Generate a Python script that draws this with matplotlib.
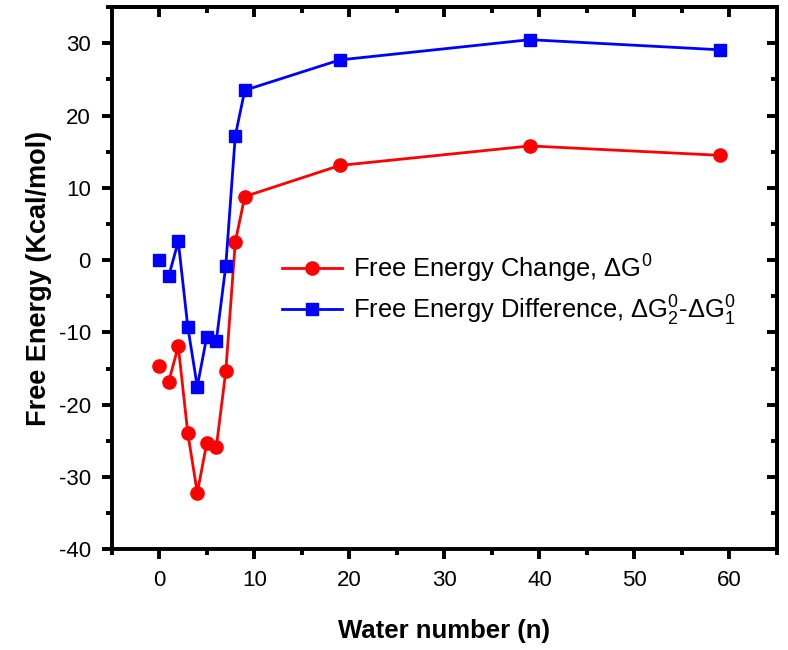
import numpy as np
import matplotlib
matplotlib.use("Agg")
import matplotlib.pyplot as plt
from matplotlib.ticker import MultipleLocator

plt.rcParams['font.family'] = ['Liberation Sans', 'DejaVu Sans']
plt.rcParams['mathtext.fontset'] = 'custom'
plt.rcParams['mathtext.rm'] = 'Liberation Sans'
plt.rcParams['mathtext.it'] = 'Liberation Sans:italic'
plt.rcParams['axes.unicode_minus'] = False

# data
water_n = [0, 1, 2, 3, 4, 5, 6, 7, 8, 9, 19, 39, 59]
dg_change = [-14.6, -16.8, -11.9, -23.9, -32.2, -25.3, -25.9, -15.4, 2.5, 8.8, 13.1, 15.8, 14.5]
dg_diff = [0.0, -2.2, 2.6, -9.2, -17.5, -10.6, -11.2, -0.8, 17.2, 23.5, 27.7, 30.5, 29.1]

label_change = r'Free Energy Change, $\Delta$G$^0$'
label_diff = r'Free Energy Difference, $\Delta$G$_2^0$-$\Delta$G$_1^0$'

fig = plt.figure(figsize=(7.88, 6.5), dpi=100)
ax = fig.add_axes([0.1418, 0.155, 0.8442, 0.834])

# first point (n=0) is not joined to the rest
ax.plot(water_n[1:], dg_change[1:], color='red', lw=2, marker='o', ms=9.5,
        label=label_change)
ax.plot(water_n[:1], dg_change[:1], color='red', ls='none', marker='o', ms=9.5)
ax.plot(water_n[1:], dg_diff[1:], color='blue', lw=2, marker='s', ms=8,
        label=label_diff)
ax.plot(water_n[:1], dg_diff[:1], color='blue', ls='none', marker='s', ms=8)

ax.set_xlim(-5, 65)
ax.set_ylim(-40, 35)
ax.xaxis.set_major_locator(MultipleLocator(10))
ax.xaxis.set_minor_locator(MultipleLocator(5))
ax.yaxis.set_major_locator(MultipleLocator(10))
ax.yaxis.set_minor_locator(MultipleLocator(5))

for s in ax.spines.values():
    s.set_linewidth(2.8)

ax.tick_params(which='major', direction='out', length=7, width=2.8, labelsize=16, pad=8)
ax.tick_params(which='minor', direction='out', length=4, width=2.8)

# inward ticks on top and right
top = ax.secondary_xaxis('top')
top.xaxis.set_major_locator(MultipleLocator(10))
top.xaxis.set_minor_locator(MultipleLocator(5))
top.tick_params(which='major', direction='in', length=7, width=2.8, labeltop=False)
top.tick_params(which='minor', direction='in', length=4, width=2.8)
top.spines['top'].set_linewidth(2.8)
right = ax.secondary_yaxis('right')
right.yaxis.set_major_locator(MultipleLocator(10))
right.yaxis.set_minor_locator(MultipleLocator(5))
right.tick_params(which='major', direction='in', length=7, width=2.8, labelright=False)
right.tick_params(which='minor', direction='in', length=4, width=2.8)
right.spines['right'].set_linewidth(2.8)

ax.set_xlabel('Water number (n)', fontsize=18.5, fontweight='bold', labelpad=20)
ax.set_ylabel('Free Energy (Kcal/mol)', fontsize=19.5, fontweight='bold', labelpad=5)

ax.legend(loc='upper left', bbox_to_anchor=(0.222, 0.59), frameon=False,
          fontsize=18.4, handlelength=2.35, handletextpad=0.4, labelspacing=0.35)

fig.savefig('out.png', dpi=100)
